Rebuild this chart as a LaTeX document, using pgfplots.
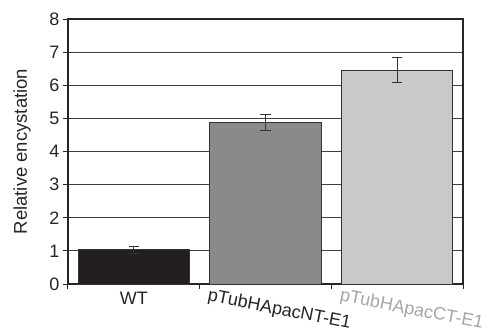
\documentclass[border=0pt]{standalone}
\usepackage{pgfplots}
\pgfplotsset{compat=1.18}
\usepackage{graphicx}
\usepackage{fontspec}
\setmainfont{Liberation Sans}
\definecolor{barA}{HTML}{231F20}
\definecolor{barB}{HTML}{898A8C}
\definecolor{barC}{HTML}{C8C9CB}
\definecolor{gridc}{HTML}{404040}
\definecolor{labC}{HTML}{A6A6A6}
\begin{document}
\begin{tikzpicture}
\begin{axis}[
  scale only axis,
  width=395bp, height=265bp,
  xmin=-0.5, xmax=2.5,
  ymin=0, ymax=8,
  ytick={0,1,...,8},
  ymajorgrids,
  grid style={gridc, line width=1.2bp},
  axis line style={black!85, line width=1.1bp},
  tick style={black!85, line width=1bp},
  tick align=outside,
  tick pos=left,
  major tick length=5bp,
  minor tick length=5bp,
  xtick={0},
  xticklabels={WT},
  major x tick style={draw=none},
  minor xtick={-0.5,0.5,1.5,2.5},
  extra x ticks={0.58,1.585},
  extra x tick labels={pTubHApacNT-E1,{\color{labC}pTubHApacCT-E1}},
  extra x tick style={major tick length=0bp, grid=none,
    xticklabel style={rotate=-11, anchor=north west, inner sep=0bp, yshift=-4bp}},
  /pgf/number format/assume math mode=true,
  ticklabel style={font=\fontsize{18bp}{21bp}\selectfont, text=black!85},
  ylabel={Relative encystation},
  every axis y label/.style={at={(axis description cs:-0.094,0.5)}, rotate=90, anchor=south, inner sep=0bp,
    font=\fontsize{18.5bp}{22bp}\selectfont, text=black!85},
  bar width=0.845,
  clip=false,
]
\addplot[ybar, fill=barA, draw=black!80, line width=0.8bp,
  error bars/.cd, y dir=both, y explicit,
  error bar style={black!80, line width=1bp},
  error mark options={rotate=90, mark size=5bp, line width=1bp, black!80}]
  coordinates {(0,1.03) +- (0,0.10)};
\addplot[ybar, fill=barB, draw=black!80, line width=0.8bp,
  error bars/.cd, y dir=both, y explicit,
  error bar style={black!80, line width=1bp},
  error mark options={rotate=90, mark size=5bp, line width=1bp, black!80}]
  coordinates {(1,4.88) +- (0,0.25)};
\addplot[ybar, fill=barC, draw=black!80, line width=0.8bp,
  error bars/.cd, y dir=both, y explicit,
  error bar style={black!80, line width=1bp},
  error mark options={rotate=90, mark size=5bp, line width=1bp, black!80}]
  coordinates {(2,6.46) +- (0,0.38)};
\end{axis}
\path (current axis.south west) ++(-68bp,-49bp) coordinate (bbA);
\path (current axis.north east) ++(25bp,19bp) coordinate (bbB);
\path[use as bounding box] (bbA) rectangle (bbB);
\end{tikzpicture}
\end{document}
